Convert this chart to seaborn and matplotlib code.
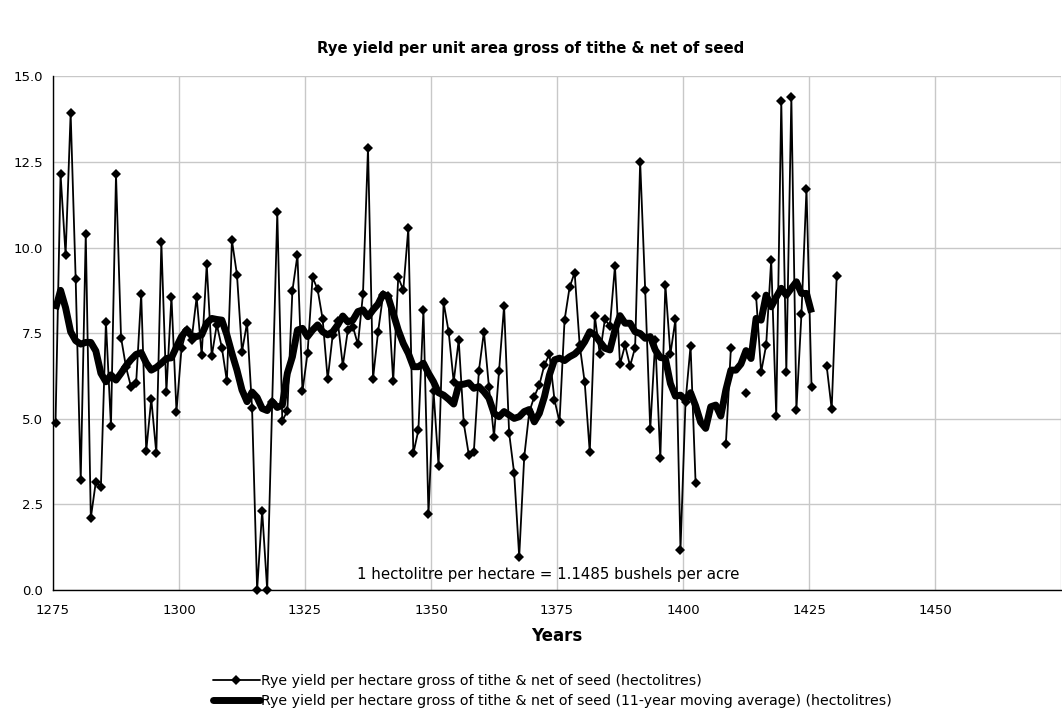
import numpy as np
import pandas as pd
import matplotlib
matplotlib.use("Agg")
import matplotlib.pyplot as plt
from matplotlib.lines import Line2D
import seaborn as sns

# Harvest years (first year of the series) and the two series
start_year = 1275
yield_hl = [
    4.87, 12.14, 9.78, 13.93, 9.07, 3.21, 10.40, 2.10, 3.16, 3.00,      # 1275-1284
    7.84, 4.78, 12.14, 7.37, 6.50, 5.92, 6.05, 8.64, 4.06, 5.58,        # 1285-1294
    3.99, 10.15, 5.79, 8.57, 5.21, 7.06, 7.59, 7.31, 8.55, 6.86,        # 1295-1304
    9.51, 6.83, 7.75, 7.08, 6.10, 10.21, 9.21, 6.96, 7.80, 5.30,        # 1305-1314
    0.00, 2.31, 0.00, 5.50, 11.03, 4.94, 5.23, 8.74, 9.78, 5.81,        # 1315-1324
    6.91, 9.13, 8.78, 7.91, 6.15, 7.45, 7.85, 6.55, 7.59, 7.69,         # 1325-1334
    7.17, 8.63, 12.91, 6.17, 7.54, 8.62, 8.58, 6.10, 9.13, 8.76,        # 1335-1344
    10.56, 3.99, 4.67, 8.17, 2.21, 5.81, 3.62, 8.40, 7.54, 6.08,        # 1345-1354
    7.30, 4.87, 3.95, 4.03, 6.40, 7.54, 5.92, 4.48, 6.40, 8.30,         # 1355-1364
    4.59, 3.41, 0.97, 3.89, 5.20, 5.65, 5.99, 6.57, 6.89, 5.55,         # 1365-1374
    4.91, 7.88, 8.84, 9.27, 7.15, 6.06, 4.02, 8.00, 6.88, 7.90,         # 1375-1384
    7.71, 9.46, 6.59, 7.15, 6.54, 7.08, 12.51, 8.76, 4.69, 7.30,        # 1385-1394
    3.84, 8.92, 6.89, 7.90, 1.17, 5.50, 7.13, 3.11, np.nan, np.nan,     # 1395-1404
    np.nan, np.nan, np.nan, 4.25, 7.06, np.nan, np.nan, 5.74, np.nan, 8.59,  # 1405-1414
    6.36, 7.15, 9.64, 5.08, 14.28, 6.36, 14.40, 5.26, 8.05, 11.71,      # 1415-1424
    5.94, np.nan, np.nan, 6.55, 5.28, 9.18,                             # 1425-1430
]
moving_avg_hl = [
    8.20, 8.75, 8.24, 7.54, 7.28, 7.18, 7.23, 7.23, 6.98, 6.33,         # 1275-1284
    6.08, 6.28, 6.13, 6.33, 6.55, 6.73, 6.88, 6.93, 6.63, 6.42,         # 1285-1294
    6.50, 6.62, 6.76, 6.78, 7.10, 7.40, 7.59, 7.42, 7.40, 7.45,         # 1295-1304
    7.79, 7.93, 7.90, 7.88, 7.45, 6.91, 6.42, 5.84, 5.50, 5.78,         # 1305-1314
    5.62, 5.30, 5.24, 5.50, 5.33, 5.40, 6.33, 6.81, 7.59, 7.64,         # 1315-1324
    7.40, 7.59, 7.74, 7.54, 7.45, 7.54, 7.74, 8.00, 7.83, 7.88,         # 1325-1334
    8.13, 8.18, 7.98, 8.18, 8.35, 8.64, 8.55, 8.08, 7.59, 7.20,         # 1335-1344
    6.91, 6.52, 6.52, 6.62, 6.33, 6.08, 5.76, 5.69, 5.57, 5.43,         # 1345-1354
    5.99, 6.01, 6.05, 5.89, 5.94, 5.79, 5.60, 5.16, 5.06, 5.21,         # 1355-1364
    5.11, 5.01, 5.06, 5.21, 5.27, 4.91, 5.16, 5.64, 6.28, 6.72,         # 1365-1374
    6.77, 6.70, 6.81, 6.89, 7.03, 7.25, 7.54, 7.45, 7.25, 7.06,         # 1375-1384
    7.01, 7.59, 8.01, 7.79, 7.79, 7.54, 7.49, 7.35, 7.40, 7.01,         # 1385-1394
    6.79, 6.76, 6.03, 5.66, 5.69, 5.55, 5.76, 5.38, 4.90, 4.72,         # 1395-1404
    5.35, 5.40, 5.08, 5.84, 6.42, 6.42, 6.60, 6.99, 6.76, 7.93,         # 1405-1414
    7.88, 8.61, 8.27, 8.55, 8.81, 8.61, 8.81, 9.00, 8.66, 8.66,         # 1415-1424
    8.10,                                                               # 1425
]

x_ticks = [1275, 1300, 1325, 1350, 1375, 1400, 1425, 1450, 1475]
x_tick_labels = ["1275", "1300", "1325", "1350", "1375", "1400", "1425", "1450", ""]
y_ticks = [0.0, 2.5, 5.0, 7.5, 10.0, 12.5, 15.0]

title = "Rye yield per unit area gross of tithe & net of seed"
label_yield = "Rye yield per hectare gross of tithe & net of seed (hectolitres)"
label_avg = ("Rye yield per hectare gross of tithe & net of seed "
             "(11-year moving average) (hectolitres)")
note = "1 hectolitre per hectare = 1.1485 bushels per acre"

# Each harvest year is plotted at the centre of its year interval
years = start_year + np.arange(len(yield_hl))
df_yield = pd.DataFrame({"year": years + 0.5, "value": yield_hl})
# Missing years break the line into separate runs
df_yield["run"] = df_yield["value"].isna().cumsum()
df_yield = df_yield.dropna()

years_avg = start_year + np.arange(len(moving_avg_hl))
df_avg = pd.DataFrame({"year": years_avg + 0.5, "value": moving_avg_hl})

sns.set_theme(style="whitegrid")
plt.rcParams["font.family"] = ["DejaVu Sans"]
plt.rcParams["text.color"] = "black"
plt.rcParams["axes.labelcolor"] = "black"

fig = plt.figure(figsize=(10.62, 7.13), dpi=100)
ax = fig.add_axes([53 / 1062, 1 - 590 / 713, 1008 / 1062, 513.7 / 713])
ax.set_facecolor("white")

sns.lineplot(data=df_yield, x="year", y="value", units="run", estimator=None,
             color="black", linewidth=1.3, marker="D", markersize=5,
             markeredgewidth=0, clip_on=False, ax=ax, zorder=3)
sns.lineplot(data=df_avg, x="year", y="value", estimator=None,
             color="black", linewidth=5, solid_capstyle="butt",
             solid_joinstyle="round", ax=ax, zorder=4)

ax.set_xlim(1275, 1475)
ax.set_ylim(0, 15)
ax.set_xticks(x_ticks)
ax.set_xticklabels(x_tick_labels)
ax.set_yticks(y_ticks)
ax.set_yticklabels([f"{v:.1f}" for v in y_ticks])
ax.tick_params(axis="both", which="major", labelsize=9.5, colors="black",
               length=4, width=1, direction="out", pad=3)
ax.tick_params(axis="x", pad=6)
ax.grid(True, color="#c8c8c8", linewidth=1)
for side in ("top", "right"):
    ax.spines[side].set_visible(False)
for side in ("left", "bottom"):
    ax.spines[side].set_visible(True)
    ax.spines[side].set_color("black")
    ax.spines[side].set_linewidth(1)

ax.set_xlabel("Years", fontsize=12, fontweight="bold", labelpad=7,
              color="black")
ax.set_ylabel("")

ax.text(0.491, 0.03, note, transform=ax.transAxes, ha="center", va="center",
        fontsize=10.8, color="black")

fig.suptitle(title, x=0.5, y=1 - 48 / 713, fontsize=10.7, fontweight="bold",
             va="center", color="black")

handles = [
    Line2D([], [], color="black", linewidth=1.3, marker="D", markersize=5,
           markeredgewidth=0),
    Line2D([], [], color="black", linewidth=5),
]
fig.legend(handles, [label_yield, label_avg], loc="upper left",
           bbox_to_anchor=(213 / 1062, 1 - 674 / 713), frameon=False,
           fontsize=10.2, handlelength=3.3, handletextpad=0.1,
           labelspacing=0.4, borderpad=0, borderaxespad=0)

fig.savefig("out.png", dpi=100, facecolor="white")
